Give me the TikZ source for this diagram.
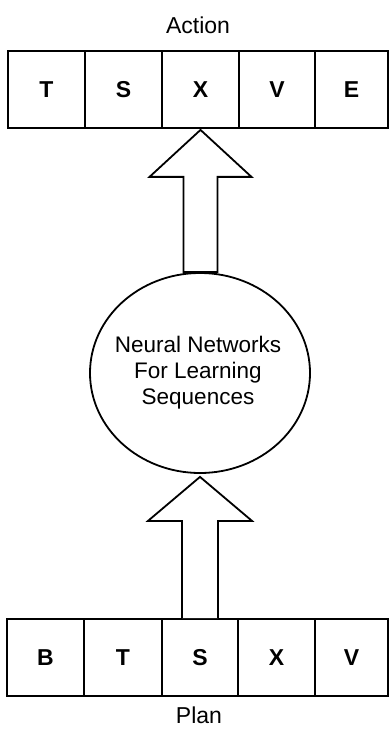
\documentclass[tikz,border=0pt]{standalone}
\usepackage{fontspec}
\setmainfont{Liberation Sans}
\usetikzlibrary{shapes.geometric,calc}
\begin{document}
\begin{tikzpicture}[x=1pt,y=-1pt,
  cellbox/.style={draw,line width=1.8pt,minimum height=77pt,inner sep=0pt,font=\fontsize{23}{25}\selectfont\bfseries},
  labeltext/.style={font=\fontsize{23}{25}\selectfont,inner sep=0pt},
  blockarrow/.style={draw,line width=1.8pt,line join=miter,fill=white}]
\useasboundingbox (0,0) rectangle (389,730);
% top row (Action)
\node[cellbox,minimum width=77pt] (a1) at (46.5,89.5) {T};
\node[cellbox,minimum width=77pt] (a2) at (123.5,89.5) {S};
\node[cellbox,minimum width=77pt] (a3) at (200.5,89.5) {X};
\node[cellbox,minimum width=76pt] (a4) at (277,89.5) {V};
\node[cellbox,minimum width=73pt] (a5) at (351.5,89.5) {E};
\node[labeltext] (action) at (198,25) {Action};
% ellipse
\node[draw,ellipse,line width=1.8pt,minimum width=220pt,minimum height=200pt,inner sep=0pt] (circ) at (200,373) {};
\node[font=\fontsize{22.5}{26}\selectfont,align=center,inner sep=0pt] (circtext) at ($(circ.center)+(-2,0)$)
      {Neural Networks\\For Learning\\Sequences};
% bottom row (Plan)
\node[cellbox,minimum width=77pt] (b1) at (45.5,657.5) {B};
\node[cellbox,minimum width=78pt] (b2) at (123,657.5) {T};
\node[cellbox,minimum width=76pt] (b3) at (200,657.5) {S};
\node[cellbox,minimum width=77pt] (b4) at (276.5,657.5) {X};
\node[cellbox,minimum width=73pt] (b5) at (351.5,657.5) {V};
\node[labeltext] (plan) at (199,715) {Plan};
% upper block arrow: from circle to action row
\coordinate (t1) at ($(a3.south)+(0,1)$);
\coordinate (s1) at (t1 |- circ.north);
\draw[blockarrow] ($(s1)+(-17,0)$) -- ($(t1)+(-17,47)$) -- ($(t1)+(-51,47)$) -- (t1)
  -- ($(t1)+(51,47)$) -- ($(t1)+(17,47)$) -- ($(s1)+(17,0)$) -- cycle;
% lower block arrow: from plan row to circle
\coordinate (t2) at ($(circ.south)+(0,3)$);
\coordinate (s2) at (t2 |- b3.north);
\draw[blockarrow] ($(s2)+(-18,0)$) -- ($(t2)+(-18,44)$) -- ($(t2)+(-52,44)$) -- (t2)
  -- ($(t2)+(52,44)$) -- ($(t2)+(18,44)$) -- ($(s2)+(18,0)$);
\end{tikzpicture}
\end{document}
